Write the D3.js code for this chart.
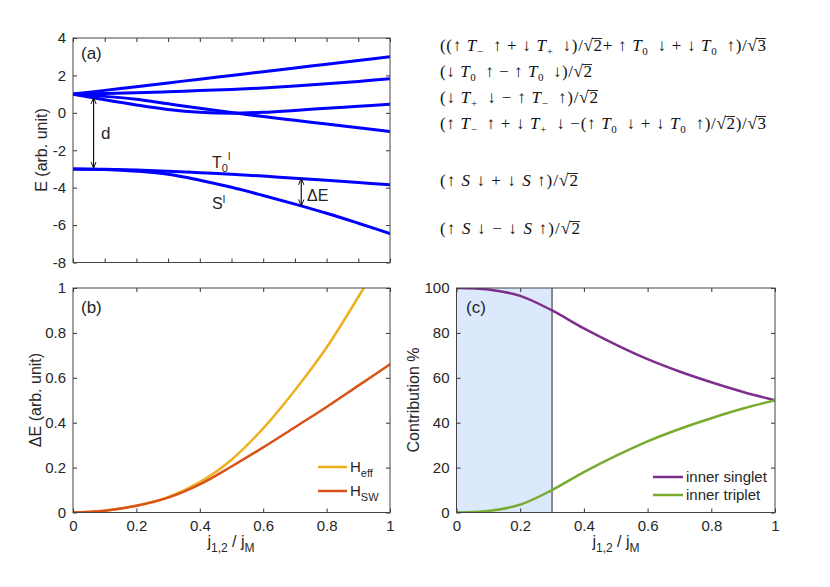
<!DOCTYPE html>
<html>
<head>
<meta charset="utf-8">
<script src="https://cdn.jsdelivr.net/npm/d3@7"></script>
<style>
  html, body { margin: 0; padding: 0; background: #fff; }
  svg { display: block; }
  .tick text { font-family: "Liberation Sans", Arial, sans-serif; font-size: 15px; fill: #262626; }
  .lbl { font-family: "Liberation Sans", Arial, sans-serif; fill: #262626; }
  .math { font-family: "Liberation Serif", "Times New Roman", serif; font-size: 17px; fill: #111; }
</style>
</head>
<body>
<svg id="fig" width="830" height="587"></svg>
<script>
// ─── Data ───────────────────────────────────────────────────────────────
const xGrid = [0, 0.1, 0.2, 0.3, 0.4, 0.5, 0.6, 0.7, 0.8, 0.9, 1.0];

// panel (a): energy levels
const levelTop    = [1, 1.2, 1.4, 1.6, 1.8, 2.0, 2.2, 2.4, 2.6, 2.8, 3.0];
const levelSecond = [1, 1.03, 1.07, 1.13, 1.19, 1.25, 1.33, 1.43, 1.55, 1.68, 1.82];
const levelDip    = [1, 0.7, 0.42, 0.18, 0.03, -0.02, 0.03, 0.13, 0.25, 0.35, 0.46];
const levelFall   = [1, 0.88, 0.72, 0.48, 0.24, 0.02, -0.2, -0.4, -0.6, -0.8, -1.0];
const levelT0     = [-3, -3.02, -3.06, -3.12, -3.2, -3.28, -3.38, -3.5, -3.6, -3.72, -3.85];
const levelS      = [-3, -3.03, -3.12, -3.28, -3.6, -3.98, -4.42, -4.88, -5.37, -5.9, -6.45];

// panel (b): gap
const xHeff = [0, 0.1, 0.2, 0.3, 0.4, 0.5, 0.6, 0.7, 0.8, 0.9, 0.917];
const gapHeff = [0, 0.008, 0.03, 0.068, 0.135, 0.235, 0.375, 0.545, 0.735, 0.96, 1.0];
const gapHsw  = [0, 0.008, 0.03, 0.066, 0.125, 0.205, 0.29, 0.38, 0.47, 0.565, 0.66];

// panel (c): contributions
const innerSinglet = [100, 99.3, 96.5, 90, 82, 74.8, 68.3, 62.8, 58, 53.7, 50];
const innerTriplet = [0, 0.7, 3.5, 10, 18, 25.2, 31.7, 37.2, 42, 46.3, 50];
const shadeEnd = 0.3;

// ticks
const ticksA_x = [0, 0.1, 0.2, 0.3, 0.4, 0.5, 0.6, 0.7, 0.8, 0.9, 1];
const ticksA_y = [-8, -6, -4, -2, 0, 2, 4];
const ticksX   = [0, 0.2, 0.4, 0.6, 0.8, 1];
const ticksB_y = [0, 0.2, 0.4, 0.6, 0.8, 1];
const ticksC_y = [0, 20, 40, 60, 80, 100];

// annotation arrows in panel (a): [x, yFrom, yTo]
const arrowD  = [0.065, 0.78, -2.92];
const arrowDE = [0.72, -3.53, -4.95];

// state formulas, top to bottom
const formulas = [
  "((↑ T_- ↑ + ↓ T_+ ↓)/√2+ ↑ T_0 ↓ + ↓ T_0 ↑)/√3",
  "(↓ T_0 ↑ − ↑ T_0 ↓)/√2",
  "(↓ T_+ ↓ − ↑ T_- ↑)/√2",
  "(↑ T_- ↑ + ↓ T_+ ↓ −(↑ T_0 ↓ + ↓ T_0 ↑)/√2)/√3",
  "(↑ S ↓ + ↓ S ↑)/√2",
  "(↑ S ↓ − ↓ S ↑)/√2"
];
const formulaY = [51, 77, 103, 129, 186, 234];
const formulaW = [326, 152, 158, 326, 138, 140];

// ─── Setup ──────────────────────────────────────────────────────────────
const svg = d3.select("#fig");
const defs = svg.append("defs");
defs.append("marker").attr("id", "ah")
  .attr("viewBox", "0 0 10 10").attr("refX", 9).attr("refY", 5)
  .attr("markerWidth", 6).attr("markerHeight", 6).attr("orient", "auto-start-reverse")
  .append("path").attr("d", "M0,1 L10,5 L0,9").attr("fill", "none").attr("stroke", "#000").attr("stroke-width", 1.4);

function makePanel(box, xDom, yDom, xt, yt, showXLabels, clipId) {
  const x = d3.scaleLinear().domain(xDom).range([box.x0, box.x1]);
  const y = d3.scaleLinear().domain(yDom).range([box.y1, box.y0]);
  const g = svg.append("g");
  defs.append("clipPath").attr("id", clipId)
    .append("rect").attr("x", box.x0).attr("y", box.y0)
    .attr("width", box.x1 - box.x0).attr("height", box.y1 - box.y0);
  const plot = g.append("g").attr("clip-path", `url(#${clipId})`);
  const axes = g.append("g");
  const fmt = d => String(+d.toFixed(2));
  const bottom = d3.axisBottom(x).tickValues(xt).tickSize(-4).tickPadding(8)
    .tickFormat(showXLabels ? fmt : "");
  const left = d3.axisLeft(y).tickValues(yt).tickSize(-4).tickPadding(7).tickFormat(fmt);
  const top = d3.axisTop(x).tickValues(xt).tickSize(-4).tickFormat("");
  const right = d3.axisRight(y).tickValues(yt).tickSize(-4).tickFormat("");
  [[bottom, `translate(0,${box.y1})`], [left, `translate(${box.x0},0)`],
   [top, `translate(0,${box.y0})`], [right, `translate(${box.x1},0)`]].forEach(([ax, tr]) => {
    const a = axes.append("g").attr("transform", tr).call(ax);
    a.select(".domain").remove();
    a.selectAll(".tick line").attr("stroke", "#333");
  });
  axes.append("rect").attr("x", box.x0).attr("y", box.y0)
    .attr("width", box.x1 - box.x0).attr("height", box.y1 - box.y0)
    .attr("fill", "none").attr("stroke", "#444").attr("stroke-width", 1);
  return { x, y, plot, axes, g };
}

function drawLine(p, xs, ys, color, w) {
  const line = d3.line().x((d, i) => p.x(xs[i])).y(d => p.y(d)).curve(d3.curveCatmullRom.alpha(0.5));
  p.plot.append("path").datum(ys).attr("d", line)
    .attr("fill", "none").attr("stroke", color).attr("stroke-width", w)
    .attr("stroke-linejoin", "round").attr("stroke-linecap", "round");
}

function panelLabel(x, y, t) {
  svg.append("text").attr("class", "lbl").attr("x", x).attr("y", y)
    .attr("font-size", 17).text(t);
}

function xTitle(cx, y) {
  const t = svg.append("text").attr("class", "lbl").attr("x", cx).attr("y", y)
    .attr("text-anchor", "middle").attr("font-size", 16);
  t.append("tspan").text("j");
  t.append("tspan").attr("dy", 5).attr("font-size", 12).text("1,2");
  t.append("tspan").attr("dy", -5).text(" / j");
  t.append("tspan").attr("dy", 5).attr("font-size", 12).text("M");
}

function yTitle(cx, cy, t) {
  svg.append("text").attr("class", "lbl").attr("transform", `translate(${cx},${cy}) rotate(-90)`)
    .attr("text-anchor", "middle").attr("font-size", 16).text(t);
}

// ─── Panel (a) ──────────────────────────────────────────────────────────
const A = makePanel({ x0: 73, x1: 390, y0: 38, y1: 262.5 }, [0, 1], [-8, 4], ticksA_x, ticksA_y, false, "clipA");
[levelTop, levelSecond, levelDip, levelFall, levelT0, levelS].forEach(ys => drawLine(A, xGrid, ys, "#0000ff", 3));
[arrowD, arrowDE].forEach(([ax, y0, y1]) => {
  A.g.append("line").attr("x1", A.x(ax)).attr("x2", A.x(ax)).attr("y1", A.y(y0)).attr("y2", A.y(y1))
    .attr("stroke", "#000").attr("stroke-width", 1.1)
    .attr("marker-start", "url(#ah)").attr("marker-end", "url(#ah)");
});
panelLabel(81, 59, "(a)");
svg.append("text").attr("class", "lbl").attr("x", 101).attr("y", 139).attr("font-size", 17).text("d");
svg.append("text").attr("class", "lbl").attr("x", 307).attr("y", 201).attr("font-size", 16).text("ΔE");
{
  const t = svg.append("text").attr("class", "lbl").attr("x", 212).attr("y", 168).attr("font-size", 16);
  t.append("tspan").text("T");
  t.append("tspan").attr("dy", 4).attr("font-size", 11).text("0");
  t.append("tspan").attr("dy", -12).attr("font-size", 11).text("l");
  const s = svg.append("text").attr("class", "lbl").attr("x", 212).attr("y", 209).attr("font-size", 16);
  s.append("tspan").text("S");
  s.append("tspan").attr("dy", -6).attr("font-size", 11).text("l");
}
yTitle(47, 150, "E (arb. unit)");

// ─── Panel (b) ──────────────────────────────────────────────────────────
const B = makePanel({ x0: 73, x1: 390, y0: 288, y1: 512.5 }, [0, 1], [0, 1], ticksX, ticksB_y, true, "clipB");
drawLine(B, xHeff, gapHeff, "#EDB120", 2.5);
drawLine(B, xGrid, gapHsw, "#D95319", 2.5);
panelLabel(81, 313, "(b)");
yTitle(41, 400, "ΔE (arb. unit)");
xTitle(231, 547);
// legend (b)
[["#EDB120", "eff", 467], ["#D95319", "SW", 491]].forEach(([c, sub, ly]) => {
  svg.append("line").attr("x1", 318).attr("x2", 347).attr("y1", ly).attr("y2", ly)
    .attr("stroke", c).attr("stroke-width", 2.5);
  const t = svg.append("text").attr("class", "lbl").attr("x", 350).attr("y", ly + 5).attr("font-size", 15);
  t.append("tspan").text("H");
  t.append("tspan").attr("dy", 5).attr("font-size", 11).text(sub);
});

// ─── Panel (c) ──────────────────────────────────────────────────────────
const C = makePanel({ x0: 456.5, x1: 775, y0: 288, y1: 512.5 }, [0, 1], [0, 100], ticksX, ticksC_y, true, "clipC");
C.plot.insert("rect", ":first-child")
  .attr("x", C.x(0)).attr("y", C.y(100))
  .attr("width", C.x(shadeEnd) - C.x(0)).attr("height", C.y(0) - C.y(100))
  .attr("fill", "#dce8fb");
C.plot.append("line").attr("x1", C.x(shadeEnd)).attr("x2", C.x(shadeEnd))
  .attr("y1", C.y(0)).attr("y2", C.y(100)).attr("stroke", "#222").attr("stroke-width", 1);
drawLine(C, xGrid, innerSinglet, "#7E2F8E", 2.5);
drawLine(C, xGrid, innerTriplet, "#77AC30", 2.5);
panelLabel(466, 313, "(c)");
yTitle(419, 400, "Contribution %");
xTitle(616, 547);
[["#7E2F8E", "inner singlet", 477], ["#77AC30", "inner triplet", 495]].forEach(([c, name, ly]) => {
  svg.append("line").attr("x1", 653).attr("x2", 683).attr("y1", ly).attr("y2", ly)
    .attr("stroke", c).attr("stroke-width", 2.5);
  svg.append("text").attr("class", "lbl").attr("x", 686).attr("y", ly + 5).attr("font-size", 15).text(name);
});

// ─── State formulas ─────────────────────────────────────────────────────
function drawMath(x, y, str, width) {
  const t = svg.append("text").attr("class", "math").attr("x", x).attr("y", y);
  const re = /T_([0+\-])|S|√(\d)/g;
  const radicals = [];
  let last = 0, m;
  while ((m = re.exec(str)) !== null) {
    if (m.index > last) t.append("tspan").text(str.slice(last, m.index));
    if (m[0].startsWith("T")) {
      t.append("tspan").attr("font-style", "italic").text("T");
      t.append("tspan").attr("dy", 4).attr("font-size", 11).text(m[1] === "-" ? "−" : m[1]);
      t.append("tspan").attr("dy", -4).text("\u2009");
    } else if (m[0] === "S") {
      t.append("tspan").attr("font-style", "italic").text("S");
    } else {
      const r = t.append("tspan").text("√");
      const d = t.append("tspan").text(m[2]);
      radicals.push([r, d]);
    }
    last = re.lastIndex;
  }
  if (last < str.length) t.append("tspan").text(str.slice(last));
  t.attr("textLength", width).attr("lengthAdjust", "spacing");
  // overline over the radicand
  radicals.forEach(([r, d]) => {
    const er = r.node().getExtentOfChar(0);
    const ed = d.node().getExtentOfChar(0);
    const yTop = y - 12.5;
    svg.append("line").attr("x1", er.x + er.width - 0.8).attr("x2", ed.x + ed.width)
      .attr("y1", yTop).attr("y2", yTop).attr("stroke", "#111").attr("stroke-width", 0.9);
  });
}
formulas.forEach((f, i) => drawMath(440, formulaY[i], f, formulaW[i]));
</script>
</body>
</html>
